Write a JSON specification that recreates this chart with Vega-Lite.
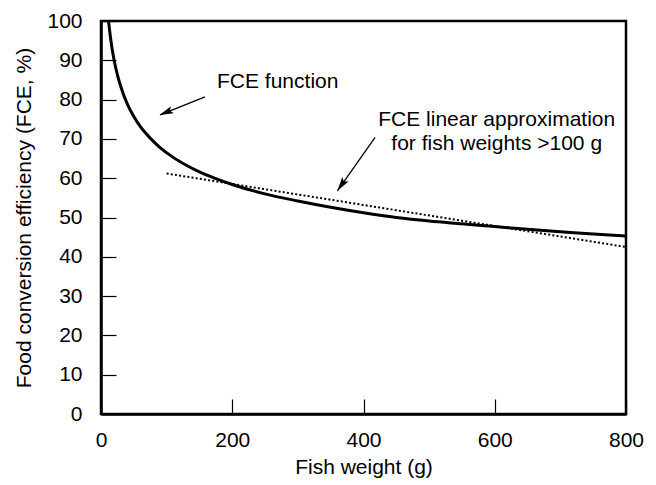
{
  "$schema": "https://vega.github.io/schema/vega-lite/v6.json",
  "width": 525,
  "height": 393,
  "autosize": "none",
  "padding": {"left": 101, "top": 21, "right": 30, "bottom": 71},
  "background": "white",
  "config": {
    "font": "Liberation Sans",
    "view": {"stroke": "black", "strokeWidth": 2.5},
    "axis": {
      "grid": false,
      "domainColor": "black",
      "domainWidth": 2.5,
      "tickColor": "black",
      "tickWidth": 1.2,
      "tickSize": -15,
      "labelColor": "black",
      "labelFont": "Liberation Sans",
      "labelFontSize": 21,
      "titleFont": "Liberation Sans",
      "titleFontSize": 21,
      "titleFontWeight": "normal",
      "titleColor": "black"
    }
  },
  "datasets": {
    "curve": [
      {"w": 11.5, "fce": 100},
      {"w": 15, "fce": 95.1},
      {"w": 20, "fce": 90.0},
      {"w": 25, "fce": 86.3},
      {"w": 30, "fce": 83.4},
      {"w": 40, "fce": 78.9},
      {"w": 50, "fce": 75.7},
      {"w": 60, "fce": 73.1},
      {"w": 75, "fce": 70.2},
      {"w": 90, "fce": 67.8},
      {"w": 110, "fce": 65.3},
      {"w": 130, "fce": 63.3},
      {"w": 150, "fce": 61.6},
      {"w": 175, "fce": 59.9},
      {"w": 200, "fce": 58.4},
      {"w": 250, "fce": 56.0},
      {"w": 300, "fce": 54.2},
      {"w": 350, "fce": 52.6},
      {"w": 400, "fce": 51.2},
      {"w": 450, "fce": 50.0},
      {"w": 500, "fce": 49.1},
      {"w": 550, "fce": 48.4},
      {"w": 600, "fce": 47.7},
      {"w": 650, "fce": 47.0},
      {"w": 700, "fce": 46.4},
      {"w": 750, "fce": 45.8},
      {"w": 800, "fce": 45.3}
    ],
    "linear": [
      {"w": 100, "fce": 61.2},
      {"w": 800, "fce": 42.5}
    ],
    "arrows": [
      {"w": 158.5, "fce": 80.7, "w2": 90, "fce2": 76.1},
      {"w": 417.7, "fce": 70.4, "w2": 360.2, "fce2": 56.8}
    ],
    "heads": [
      {"w": 89, "fce": 76.1, "angle": 248.2},
      {"w": 360.2, "fce": 56.8, "angle": 215.2}
    ],
    "labelLeft": [
      {"w": 176.8, "fce": 83.0, "label": "FCE function"}
    ],
    "labelCenter": [
      {"w": 603, "fce": 73.4, "label": "FCE linear approximation"},
      {"w": 603, "fce": 67.2, "label": "for fish weights >100 g"}
    ]
  },
  "encoding": {
    "x": {
      "field": "w",
      "type": "quantitative",
      "scale": {"domain": [0, 800], "nice": false, "zero": false},
      "axis": {"values": [0, 200, 400, 600, 800], "labelPadding": 30, "titlePadding": 6, "labelFlush": false},
      "title": "Fish weight (g)"
    },
    "y": {
      "field": "fce",
      "type": "quantitative",
      "scale": {"domain": [0, 100], "nice": false, "zero": false},
      "axis": {"values": [0, 10, 20, 30, 40, 50, 60, 70, 80, 90, 100], "labelPadding": 34, "titlePadding": 12, "labelFlush": false},
      "title": "Food conversion efficiency (FCE, %)"
    }
  },
  "layer": [
    {
      "data": {"name": "curve"},
      "mark": {"type": "line", "color": "black", "strokeWidth": 3, "interpolate": "monotone", "clip": true}
    },
    {
      "data": {"name": "linear"},
      "mark": {"type": "line", "color": "black", "strokeWidth": 2, "strokeDash": [2, 2.2]}
    },
    {
      "data": {"name": "arrows"},
      "mark": {"type": "rule", "color": "black", "strokeWidth": 1.3},
      "encoding": {
        "x2": {"field": "w2"},
        "y2": {"field": "fce2"}
      }
    },
    {
      "data": {"name": "heads"},
      "mark": {"type": "point", "shape": "M0,0L-0.55,2L0,1.6L0.55,2Z", "filled": true, "color": "black", "opacity": 1, "size": 196, "strokeWidth": 0},
      "encoding": {
        "angle": {"field": "angle", "type": "quantitative", "scale": null}
      }
    },
    {
      "data": {"name": "labelLeft"},
      "mark": {"type": "text", "align": "left", "baseline": "alphabetic", "fontSize": 21, "font": "Liberation Sans", "color": "black"},
      "encoding": {"text": {"field": "label"}}
    },
    {
      "data": {"name": "labelCenter"},
      "mark": {"type": "text", "align": "center", "baseline": "alphabetic", "fontSize": 21, "font": "Liberation Sans", "color": "black"},
      "encoding": {"text": {"field": "label"}}
    }
  ]
}
